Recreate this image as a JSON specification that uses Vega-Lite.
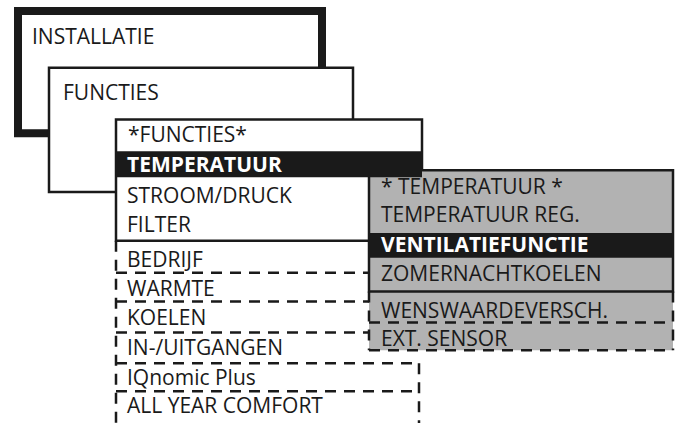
{
  "$schema": "https://vega.github.io/schema/vega-lite/v6.json",
  "width": 681,
  "height": 425,
  "autosize": {"type": "fit", "contains": "padding"},
  "padding": 0,
  "background": "white",
  "config": {"view": {"stroke": null}},
  "datasets": {
    "outer": [{"x": 18, "x2": 322, "y": 11, "y2": 134}],
    "panels": [
      {"x": 49, "x2": 353, "y": 68, "y2": 193},
      {"x": 116, "x2": 422, "y": 120, "y2": 242}
    ],
    "listDash": [
      {"x": 116, "x2": 116, "y": 242, "y2": 425},
      {"x": 419, "x2": 419, "y": 365, "y2": 425},
      {"x": 116, "x2": 419, "y": 274, "y2": 274},
      {"x": 116, "x2": 419, "y": 303, "y2": 303},
      {"x": 116, "x2": 419, "y": 334, "y2": 334},
      {"x": 116, "x2": 419, "y": 365, "y2": 365},
      {"x": 116, "x2": 419, "y": 393, "y2": 393}
    ],
    "grayFill": [{"x": 369, "x2": 673, "y": 171, "y2": 352}],
    "grayBorder": [{"x": 369, "x2": 673, "y": 171, "y2": 293}],
    "grayDash": [
      {"x": 369, "x2": 369, "y": 293, "y2": 352},
      {"x": 673, "x2": 673, "y": 293, "y2": 352},
      {"x": 369, "x2": 673, "y": 324, "y2": 324},
      {"x": 369, "x2": 673, "y": 352, "y2": 352}
    ],
    "bands": [
      {"x": 116, "x2": 422, "y": 152, "y2": 178},
      {"x": 369, "x2": 673, "y": 234, "y2": 259}
    ],
    "labels": [
      {"x": 32, "y": 44, "label": "INSTALLATIE"},
      {"x": 63, "y": 100, "label": "FUNCTIES"},
      {"x": 128, "y": 143, "label": "*FUNCTIES*"},
      {"x": 127, "y": 204, "label": "STROOM/DRUCK"},
      {"x": 127, "y": 233, "label": "FILTER"},
      {"x": 127, "y": 268, "label": "BEDRIJF"},
      {"x": 127, "y": 297, "label": "WARMTE"},
      {"x": 127, "y": 327, "label": "KOELEN"},
      {"x": 127, "y": 357, "label": "IN-/UITGANGEN"},
      {"x": 127, "y": 387, "label": "IQnomic Plus"},
      {"x": 127, "y": 415, "label": "ALL YEAR COMFORT"},
      {"x": 381, "y": 195, "label": "* TEMPERATUUR *"},
      {"x": 381, "y": 223, "label": "TEMPERATUUR REG."},
      {"x": 381, "y": 282, "label": "ZOMERNACHTKOELEN"},
      {"x": 381, "y": 320, "label": "WENSWAARDEVERSCH."},
      {"x": 381, "y": 348, "label": "EXT. SENSOR"}
    ],
    "boldLabels": [
      {"x": 127, "y": 173, "label": "TEMPERATUUR"},
      {"x": 381, "y": 253, "label": "VENTILATIEFUNCTIE"}
    ]
  },
  "encoding": {
    "x": {"field": "x", "type": "quantitative", "scale": {"domain": [0, 681], "nice": false, "zero": false}, "axis": null},
    "y": {"field": "y", "type": "quantitative", "scale": {"domain": [0, 425], "nice": false, "zero": false, "reverse": true}, "axis": null}
  },
  "layer": [
    {
      "data": {"name": "outer"},
      "mark": {"type": "rect", "fill": "white", "stroke": "#1a1a1a", "strokeWidth": 8},
      "encoding": {"x2": {"field": "x2"}, "y2": {"field": "y2"}}
    },
    {
      "data": {"name": "panels"},
      "mark": {"type": "rect", "fill": "white", "stroke": "#1a1a1a", "strokeWidth": 2.5},
      "encoding": {"x2": {"field": "x2"}, "y2": {"field": "y2"}}
    },
    {
      "data": {"name": "listDash"},
      "mark": {"type": "rule", "stroke": "#1a1a1a", "strokeWidth": 2.5, "strokeDash": [11, 8]},
      "encoding": {"x2": {"field": "x2"}, "y2": {"field": "y2"}}
    },
    {
      "data": {"name": "grayFill"},
      "mark": {"type": "rect", "fill": "#b2b2b2"},
      "encoding": {"x2": {"field": "x2"}, "y2": {"field": "y2"}}
    },
    {
      "data": {"name": "grayBorder"},
      "mark": {"type": "rect", "fill": null, "fillOpacity": 0, "stroke": "#1a1a1a", "strokeWidth": 2.5},
      "encoding": {"x2": {"field": "x2"}, "y2": {"field": "y2"}}
    },
    {
      "data": {"name": "grayDash"},
      "mark": {"type": "rule", "stroke": "#1a1a1a", "strokeWidth": 2.5, "strokeDash": [11, 8]},
      "encoding": {"x2": {"field": "x2"}, "y2": {"field": "y2"}}
    },
    {
      "data": {"name": "bands"},
      "mark": {"type": "rect", "fill": "#1a1a1a"},
      "encoding": {"x2": {"field": "x2"}, "y2": {"field": "y2"}}
    },
    {
      "data": {"name": "labels"},
      "mark": {"type": "text", "align": "left", "baseline": "alphabetic", "font": "Open Sans", "fontSize": 21, "color": "#1a1a1a"},
      "encoding": {"text": {"field": "label"}}
    },
    {
      "data": {"name": "boldLabels"},
      "mark": {"type": "text", "align": "left", "baseline": "alphabetic", "font": "Open Sans", "fontSize": 21, "fontWeight": "bold", "color": "white"},
      "encoding": {"text": {"field": "label"}}
    }
  ]
}
